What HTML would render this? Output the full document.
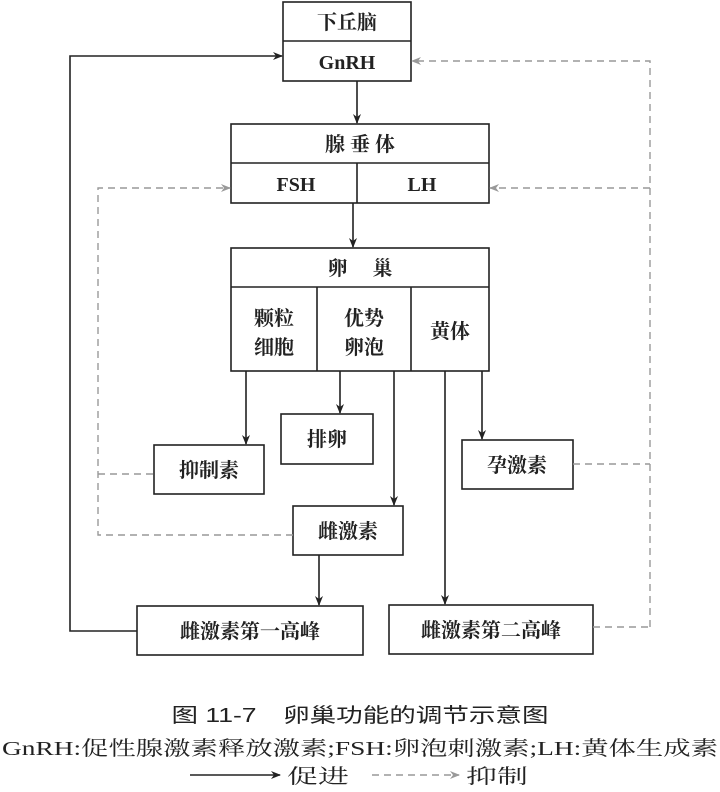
<!DOCTYPE html>
<html><head><meta charset="utf-8"><style>
html,body{margin:0;padding:0;background:#fff;}
svg{display:block;}
text{font-family:"Liberation Serif","Noto Serif CJK SC",serif;fill:#222;}
.b{font-weight:bold;}
</style></head><body>
<svg width="720" height="792" viewBox="0 0 720 792" xmlns="http://www.w3.org/2000/svg">
<defs>
<marker id="a" markerWidth="10" markerHeight="8" refX="9" refY="4" orient="auto" markerUnits="userSpaceOnUse"><path d="M0,0 L10,4 L0,8 L3,4 Z" fill="#222"/></marker>
<marker id="g" markerWidth="10" markerHeight="8" refX="9" refY="4" orient="auto" markerUnits="userSpaceOnUse"><path d="M0,0 L10,4 L0,8 L3,4 Z" fill="#999"/></marker>
</defs>
<g fill="none" stroke="#222" stroke-width="1.6">
<rect x="283" y="2" width="128" height="79"/><line x1="283" y1="41" x2="411" y2="41"/>
<rect x="231" y="124" width="258" height="79"/><line x1="231" y1="163" x2="489" y2="163"/><line x1="357" y1="163" x2="357" y2="203"/>
<rect x="231" y="248" width="258" height="123"/><line x1="231" y1="287" x2="489" y2="287"/><line x1="317" y1="287" x2="317" y2="371"/><line x1="411" y1="287" x2="411" y2="371"/>
<rect x="154" y="445" width="110" height="49"/>
<rect x="281" y="414" width="92" height="50"/>
<rect x="293" y="506" width="110" height="49"/>
<rect x="462" y="440" width="111" height="49"/>
<rect x="137" y="606" width="226" height="49"/>
<rect x="389" y="605" width="204" height="49"/>
<line x1="357" y1="81" x2="357" y2="123" marker-end="url(#a)"/>
<line x1="353" y1="203" x2="353" y2="247" marker-end="url(#a)"/>
<line x1="246" y1="371" x2="246" y2="444" marker-end="url(#a)"/>
<line x1="340" y1="371" x2="340" y2="413" marker-end="url(#a)"/>
<line x1="394" y1="371" x2="394" y2="505" marker-end="url(#a)"/>
<line x1="445" y1="371" x2="445" y2="604" marker-end="url(#a)"/>
<line x1="482" y1="371" x2="482" y2="439" marker-end="url(#a)"/>
<line x1="319" y1="555" x2="319" y2="605" marker-end="url(#a)"/>
<polyline points="137,631 70,631 70,56 282,56" marker-end="url(#a)"/>
<line x1="190" y1="775" x2="280" y2="775" marker-end="url(#a)"/>
</g>
<g fill="none" stroke="#999" stroke-width="1.4" stroke-dasharray="7,5">
<polyline points="650,627 650,61 412,61" marker-end="url(#g)"/>
<line x1="650" y1="188" x2="490" y2="188" marker-end="url(#g)"/>
<polyline points="293,535 98,535 98,188 230,188" marker-end="url(#g)"/>
<line x1="98" y1="474" x2="154" y2="474"/>
<line x1="573" y1="464" x2="650" y2="464"/>
<line x1="593" y1="627" x2="650" y2="627"/>
<line x1="372" y1="775" x2="459" y2="775" marker-end="url(#g)"/>
</g>
<g font-size="20" text-anchor="middle" class="b">
<text x="347" y="29">下丘脑</text>
<text x="347" y="69">GnRH</text>
<text x="360" y="151">腺 垂 体</text>
<text x="296" y="191">FSH</text>
<text x="422" y="191">LH</text>
<text x="360" y="275">卵　 巢</text>
<text x="274" y="325">颗粒</text>
<text x="274" y="354">细胞</text>
<text x="364" y="325">优势</text>
<text x="364" y="354">卵泡</text>
<text x="450" y="338">黄体</text>
<text x="209" y="477">抑制素</text>
<text x="327" y="446">排卵</text>
<text x="348" y="538">雌激素</text>
<text x="517" y="472">孕激素</text>
<text x="250" y="638">雌激素第一高峰</text>
<text x="491" y="637">雌激素第二高峰</text>
</g>
<g font-size="20">
<text x="360" y="722" text-anchor="middle" textLength="377" lengthAdjust="spacingAndGlyphs" style="font-family:'Liberation Sans','Noto Sans CJK SC',sans-serif">图 11-7　卵巢功能的调节示意图</text>
<text x="2" y="755" textLength="716" lengthAdjust="spacingAndGlyphs">GnRH:促性腺激素释放激素;FSH:卵泡刺激素;LH:黄体生成素</text>
<text x="287" y="783" textLength="62" lengthAdjust="spacingAndGlyphs">促进</text>
<text x="466" y="783" textLength="62" lengthAdjust="spacingAndGlyphs">抑制</text>
</g>
</svg>
</body></html>
